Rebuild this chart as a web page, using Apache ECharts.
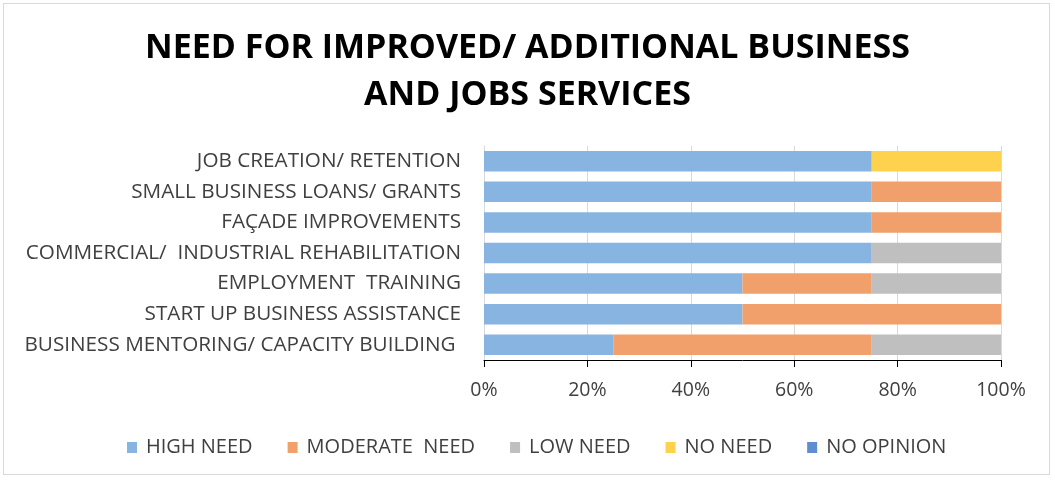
<!DOCTYPE html>
<html>
<head>
<meta charset="utf-8">
<script src="https://cdn.jsdelivr.net/npm/echarts@6/dist/echarts.min.js"></script>
<style>
  html, body { margin: 0; padding: 0; background: #ffffff; }
  #frame { position: absolute; left: 3px; top: 3px; width: 1047px; height: 472px; border: 1px solid #d9d9d9; box-sizing: border-box; }
  #chart { position: absolute; left: 0; top: 0; width: 1055px; height: 480px; }
</style>
</head>
<body>
<div id="frame"></div>
<div id="chart"></div>
<script>
const categories = [
  'JOB CREATION/ RETENTION',
  'SMALL BUSINESS LOANS/ GRANTS',
  'FAÇADE IMPROVEMENTS',
  'COMMERCIAL/  INDUSTRIAL REHABILITATION',
  'EMPLOYMENT  TRAINING',
  'START UP BUSINESS ASSISTANCE',
  'BUSINESS MENTORING/ CAPACITY BUILDING '
];
const highNeed     = [75, 75, 75, 75, 50, 50, 25];
const moderateNeed = [0, 25, 25, 0, 25, 50, 50];
const lowNeed      = [0, 0, 0, 25, 25, 0, 25];
const noNeed       = [25, 0, 0, 0, 0, 0, 0];
const noOpinion    = [0, 0, 0, 0, 0, 0, 0];
const seriesNames  = ['HIGH NEED', 'MODERATE  NEED', 'LOW NEED', 'NO NEED', 'NO OPINION'];
const seriesData   = [highNeed, moderateNeed, lowNeed, noNeed, noOpinion];
const seriesColors = ['#88b4e1', '#f1a06c', '#bfbfbf', '#fed24c', '#5f8dd2'];

const FONT = "'Open Sans', sans-serif";

const chart = echarts.init(document.getElementById('chart'), null, { renderer: 'canvas' });
chart.setOption({
  animation: false,
  backgroundColor: 'transparent',
  title: {
    text: 'NEED FOR IMPROVED/ ADDITIONAL BUSINESS\nAND JOBS SERVICES',
    left: 'center',
    top: 20,
    textStyle: {
      fontFamily: FONT,
      fontWeight: 'bold',
      fontSize: 34,
      lineHeight: 47,
      color: '#000000'
    }
  },
  legend: {
    top: 432,
    left: 122,
    itemWidth: 10,
    itemHeight: 11,
    itemGap: 35,
    icon: 'rect',
    textStyle: { fontFamily: FONT, fontSize: 20, lineHeight: 21, color: '#404040', padding: [0, 0, 0, 4] },
    data: seriesNames
  },
  grid: { left: 484, right: 54, top: 146, bottom: 120, containLabel: false },
  xAxis: {
    type: 'value',
    min: 0,
    max: 100,
    interval: 20,
    axisLine: { show: true, lineStyle: { color: '#000000', width: 1 } },
    axisTick: { show: true, length: 7, lineStyle: { color: '#000000' } },
    axisLabel: { formatter: '{value}%', fontFamily: FONT, fontSize: 19.5, color: '#404040', margin: 20 },
    splitLine: { show: true, lineStyle: { color: '#d9d9d9', width: 1 } }
  },
  yAxis: {
    type: 'category',
    inverse: true,
    data: categories,
    axisLine: { show: true, lineStyle: { color: '#d9d9d9' } },
    axisTick: { show: false },
    axisLabel: { fontFamily: FONT, fontSize: 20.7, color: '#404040', margin: 23 }
  },
  series: seriesNames.map((name, i) => ({
    name: name,
    type: 'bar',
    stack: 'total',
    barWidth: '67%',
    data: seriesData[i],
    itemStyle: { color: seriesColors[i] }
  }))
});
</script>
</body>
</html>
